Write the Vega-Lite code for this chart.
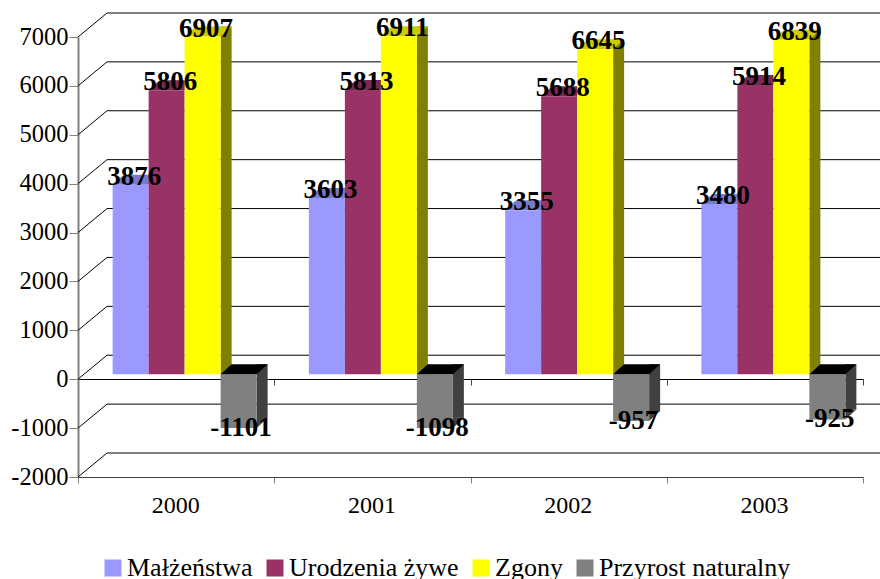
{
"$schema":"https://vega.github.io/schema/vega-lite/v6.json",
"width":785,"height":440,
"autosize":"none",
"padding":{"left":78,"top":37,"right":17,"bottom":102},
"background":"white",
"view":{"stroke":null},
"config":{"font":"Liberation Serif","view":{"stroke":null}},
"datasets":{
"bars":[
{"year":"2000","series":"Małżeństwa","v":3876},{"year":"2000","series":"Urodzenia żywe","v":5806},{"year":"2000","series":"Zgony","v":6907},{"year":"2000","series":"Przyrost naturalny","v":-1101},
{"year":"2001","series":"Małżeństwa","v":3603},{"year":"2001","series":"Urodzenia żywe","v":5813},{"year":"2001","series":"Zgony","v":6911},{"year":"2001","series":"Przyrost naturalny","v":-1098},
{"year":"2002","series":"Małżeństwa","v":3355},{"year":"2002","series":"Urodzenia żywe","v":5688},{"year":"2002","series":"Zgony","v":6645},{"year":"2002","series":"Przyrost naturalny","v":-957},
{"year":"2003","series":"Małżeństwa","v":3480},{"year":"2003","series":"Urodzenia żywe","v":5914},{"year":"2003","series":"Zgony","v":6839},{"year":"2003","series":"Przyrost naturalny","v":-925}],
"grid":[{"v":-2000},{"v":-1000},{"v":0},{"v":1000},{"v":2000},{"v":3000},{"v":4000},{"v":5000},{"v":6000},{"v":7000}]
},
"resolve":{"scale":{"x":"independent"},"axis":{"x":"independent"}},
"layer":[
{"data":{"name":"grid"},
 "mark":{"type":"rule","color":"#000000","strokeWidth":1,"yOffset":-24},
 "encoding":{
  "x":{"datum":29,"type":"quantitative","scale":{"domain":[0,785],"range":[0,785]},"axis":null},
  "x2":{"datum":802},
  "y":{"field":"v","type":"quantitative","scale":{"domain":[-2000,7000],"nice":false,"zero":false},
   "axis":{"title":null,"grid":false,"values":[-2000,-1000,0,1000,2000,3000,4000,5000,6000,7000],"labelExpr":"datum.value+''","labelFontSize":24.5,"labelColor":"#000000","labelPadding":1,"labelFont":"Liberation Serif","tickSize":9,"tickColor":"#808080","tickWidth":1,"domainColor":"#808080","domainWidth":2}}
 }},
{"data":{"name":"grid"},
 "mark":{"type":"rule","color":"#000000","strokeWidth":1,"y2Offset":-24},
 "encoding":{
  "x":{"datum":0,"type":"quantitative","scale":{"domain":[0,785],"range":[0,785]},"axis":null},
  "x2":{"datum":29},
  "y":{"field":"v","type":"quantitative"},
  "y2":{"field":"v"}
 }},
{"data":{"name":"bars"},
 "mark":{"type":"bar","opacity":0},
 "encoding":{
  "x":{"field":"year","type":"ordinal","scale":{"paddingInner":0,"paddingOuter":0},
   "axis":{"title":null,"orient":"bottom","offset":-98,"labels":false,"tickBand":"extent","tickSize":6,"tickColor":"#404040","domainColor":"#000000","domainWidth":1}},
  "y":{"datum":0,"type":"quantitative"}
 }},
{"data":{"name":"bars"},
 "encoding":{
  "x":{"field":"year","type":"ordinal","scale":{"paddingInner":0,"paddingOuter":0,"range":[32,817]},"axis":null},
  "xOffset":{"field":"series","type":"nominal","scale":{"domain":["Małżeństwa","Urodzenia żywe","Zgony","Przyrost naturalny"],"paddingInner":0,"paddingOuter":0.726}}
 },
 "layer":[
  {"transform":[{"filter":"datum.series==='Zgony'"}],
   "mark":{"type":"bar","width":11,"yOffset":-15,"y2Offset":-5,"fill":"#808000"},
   "encoding":{"y":{"field":"v","type":"quantitative"},"y2":{"datum":0}}},
  {"transform":[{"filter":"datum.v<0"}],
   "mark":{"type":"bar","width":11,"yOffset":-15,"y2Offset":-15,"fill":"#404040"},
   "encoding":{"y":{"field":"v","type":"quantitative"},"y2":{"datum":0}}}
 ]},
{"data":{"name":"bars"},
 "encoding":{
  "x":{"field":"year","type":"ordinal","scale":{"paddingInner":0,"paddingOuter":0,"range":[8.5,793.5]},"axis":null},
  "xOffset":{"field":"series","type":"nominal","scale":{"domain":["Małżeństwa","Urodzenia żywe","Zgony","Przyrost naturalny"],"paddingInner":0,"paddingOuter":0.726}}
 },
 "layer":[
  {"transform":[{"filter":"datum.v<0"}],
   "mark":{"type":"point","shape":"M18,-10 L29,-10 L18,0 Z","size":4,"filled":true,"fill":"#404040","strokeWidth":0,"opacity":1,"yOffset":-5},
   "encoding":{"y":{"field":"v","type":"quantitative"}}},
  {"transform":[{"filter":"datum.v>=0"}],
   "mark":{"type":"point","shape":"M-18,0 L18,0 L29,-10 L-7,-10 Z","size":4,"filled":true,"strokeWidth":0,"opacity":1,"yOffset":-5},
   "encoding":{"y":{"field":"v","type":"quantitative"},
    "fill":{"field":"series","type":"nominal","legend":null,"scale":{"domain":["Małżeństwa","Urodzenia żywe","Zgony"],"range":["#7A7ACC","#7A2952","#CCCC00"]}}}},
  {"mark":{"type":"bar","yOffset":-5,"y2Offset":-5},
   "encoding":{"y":{"field":"v","type":"quantitative"},"y2":{"datum":0},
    "color":{"field":"series","type":"nominal","scale":{"domain":["Małżeństwa","Urodzenia żywe","Zgony","Przyrost naturalny"],"range":["#9999FF","#993366","#FFFF00","#808080"]},
     "legend":{"title":null,"orient":"none","legendX":22,"legendY":518,"direction":"horizontal","columns":4,"symbolType":"square","symbolSize":289,"symbolStrokeWidth":0,"labelFontSize":26,"labelFont":"Liberation Serif","labelColor":"#000000","labelOffset":1,"columnPadding":9,"labelLimit":300}}}},
  {"transform":[{"filter":"datum.v<0"}],
   "mark":{"type":"point","shape":"M-18,0 L18,0 L29,-10 L-7,-10 Z","size":4,"filled":true,"fill":"#000000","strokeWidth":0,"opacity":1,"yOffset":-5},
   "encoding":{"y":{"datum":0,"type":"quantitative"}}},
  {"transform":[{"filter":"datum.v>=0"}],
   "mark":{"type":"text","font":"Liberation Serif","fontWeight":"bold","fontSize":27,"color":"#000000","baseline":"middle","align":"center","dx":3.5,"yOffset":-13},
   "encoding":{"y":{"field":"v","type":"quantitative"},"text":{"field":"v","type":"nominal"}}},
  {"transform":[{"filter":"datum.v<0"}],
   "mark":{"type":"text","font":"Liberation Serif","fontWeight":"bold","fontSize":27,"color":"#000000","baseline":"middle","align":"center","dx":2.5,"yOffset":-5},
   "encoding":{"y":{"field":"v","type":"quantitative"},"text":{"field":"v","type":"nominal"}}}
 ]},
{"data":{"name":"bars"},
 "mark":{"type":"bar","opacity":0},
 "encoding":{
  "x":{"field":"year","type":"ordinal","scale":{"paddingInner":0,"paddingOuter":0},
   "axis":{"title":null,"orient":"bottom","labelAngle":0,"labelFontSize":24,"labelFont":"Liberation Serif","labelColor":"#000000","labelPadding":10,"labelOffset":-1,"tickBand":"extent","tickSize":6,"tickColor":"#808080","domainColor":"#404040","domainWidth":1}},
  "y":{"datum":0,"type":"quantitative"}
 }}
]
}
